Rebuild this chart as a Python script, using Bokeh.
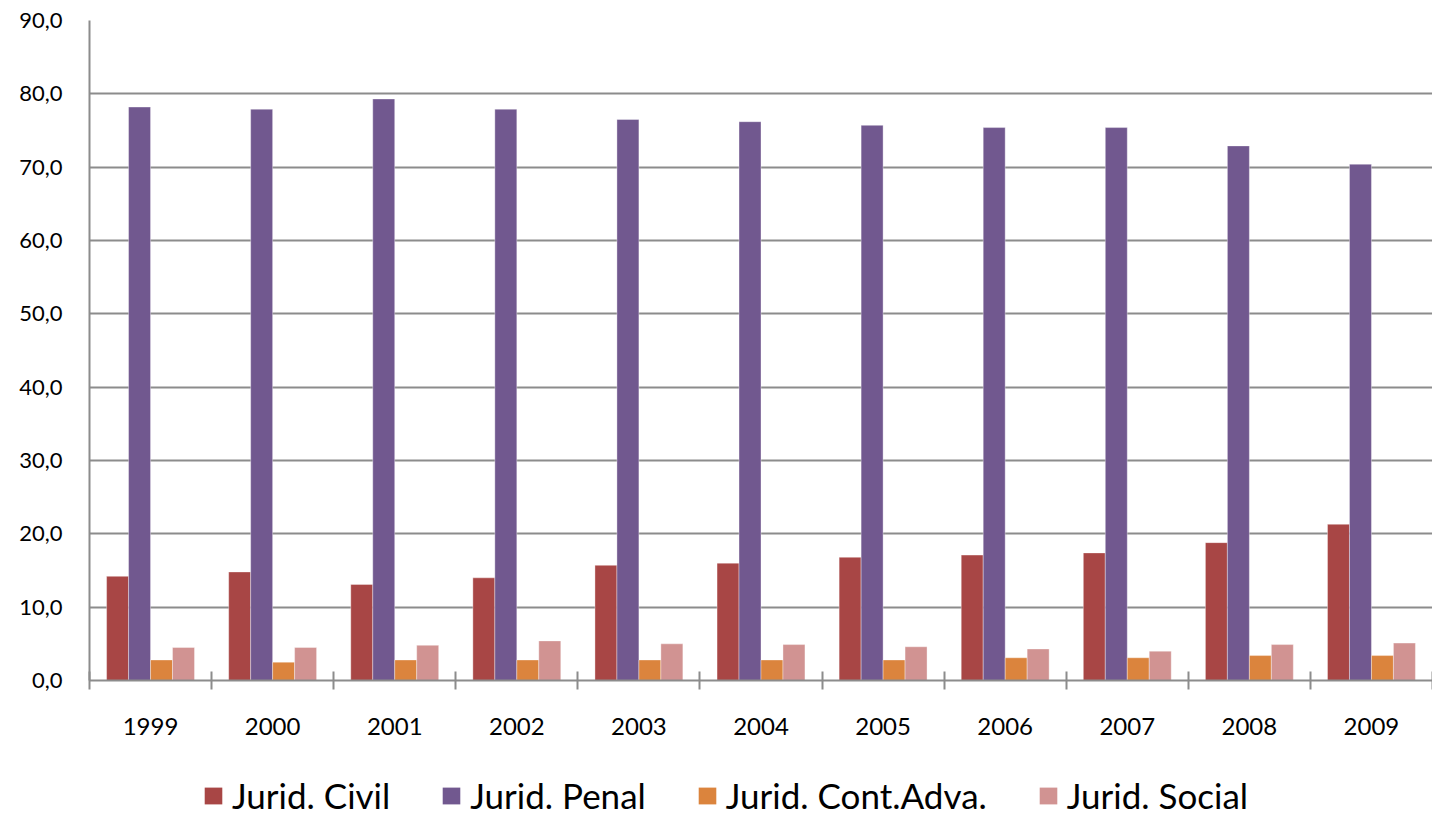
import numpy as np
from bokeh.plotting import figure
from bokeh.layouts import column
from bokeh.models import (Range1d, FixedTicker, CustomJSTickFormatter, ColumnDataSource,
                          Legend, LegendItem)
from bokeh.embed import file_html
from bokeh.resources import INLINE

years = ["1999", "2000", "2001", "2002", "2003", "2004", "2005", "2006", "2007", "2008", "2009"]
civil = [14.2, 14.8, 13.1, 14.0, 15.7, 16.0, 16.8, 17.1, 17.4, 18.8, 21.3]
penal = [78.2, 77.9, 79.3, 77.9, 76.5, 76.2, 75.7, 75.4, 75.4, 72.9, 70.4]
cont = [2.8, 2.5, 2.8, 2.8, 2.8, 2.8, 2.8, 3.1, 3.1, 3.4, 3.4]
social = [4.5, 4.5, 4.8, 5.4, 5.0, 4.9, 4.6, 4.3, 4.0, 4.9, 5.1]
series_names = ["Jurid. Civil", "Jurid. Penal", "Jurid. Cont.Adva.", "Jurid. Social"]
colors = ["#A84645", "#71588F", "#DB843D", "#D19392"]
y_ticks = [0, 10, 20, 30, 40, 50, 60, 70, 80, 90]

FONT = "Lato"
GRID = "#8C8C8C"

p = figure(width=1432, height=774, output_backend="svg", toolbar_location=None,
           x_range=Range1d(0, len(years)), y_range=Range1d(0, 90),
           min_border_left=89, min_border_top=20, min_border_right=0, min_border_bottom=94)
p.outline_line_color = None
p.xgrid.visible = False
p.ygrid.ticker = FixedTicker(ticks=y_ticks)
p.ygrid.grid_line_color = GRID
p.ygrid.grid_line_width = 2

centers = np.arange(len(years)) + 0.5
bw = 0.18
offsets = [-1.5 * bw, -0.5 * bw, 0.5 * bw, 1.5 * bw]
sources = []
for vals, off, col in zip([civil, penal, cont, social], offsets, colors):
    src = ColumnDataSource(dict(x=centers + off, top=vals))
    sources.append(src)
    p.vbar(x="x", top="top", width=bw, bottom=0, source=src, fill_color=col,
           line_color="white", line_width=0.6, line_alpha=0.6)

# y axis
p.yaxis.ticker = FixedTicker(ticks=y_ticks)
p.yaxis.formatter = CustomJSTickFormatter(code="return tick.toFixed(1).replace('.', ',');")
p.yaxis.axis_line_color = GRID
p.yaxis.axis_line_width = 2
p.yaxis.major_tick_line_color = None
p.yaxis.major_tick_out = 0
p.yaxis.major_tick_in = 0
p.yaxis.minor_tick_line_color = None
p.yaxis.minor_tick_out = 0
p.yaxis.major_label_text_font = FONT
p.yaxis.major_label_text_font_size = "22px"
p.yaxis.major_label_text_color = "black"
p.yaxis.major_label_standoff = 27

# x axis
p.xaxis.ticker = FixedTicker(ticks=list(centers), minor_ticks=list(range(len(years) + 1)))
p.xaxis.formatter = CustomJSTickFormatter(args=dict(labels=years),
                                          code="return labels[Math.floor(tick)];")
p.xaxis.axis_line_color = GRID
p.xaxis.axis_line_width = 2
p.xaxis.major_tick_line_color = None
p.xaxis.major_tick_out = 0
p.xaxis.major_tick_in = 0
p.xaxis.minor_tick_line_color = GRID
p.xaxis.minor_tick_line_width = 2
p.xaxis.minor_tick_in = 9
p.xaxis.minor_tick_out = 9
p.xaxis.major_label_text_font = FONT
p.xaxis.major_label_text_font_size = "24px"
p.xaxis.major_label_text_color = "black"
p.xaxis.major_label_standoff = 28

# legend strip below the chart (proxy renderers share the data but sit outside its view)
lg = figure(width=1432, height=42, output_backend="svg", toolbar_location=None,
            x_axis_type=None, y_axis_type=None,
            x_range=Range1d(-1000, -999), y_range=Range1d(0, 1),
            min_border_left=0, min_border_right=0, min_border_top=0, min_border_bottom=0)
lg.grid.visible = False
lg.outline_line_color = None
items = []
for name, col, src in zip(series_names, colors, sources):
    r = lg.vbar(x="x", top="top", width=bw, source=src, fill_color=col, line_color=None)
    items.append(LegendItem(label=name, renderers=[r]))
legend = Legend(items=items, orientation="horizontal", location=(113, 0),
                label_text_font=FONT, label_text_font_size="35px", label_text_color="black",
                glyph_width=22, glyph_height=21, label_standoff=8, spacing=50,
                border_line_color=None, background_fill_alpha=0, padding=0, margin=0)
lg.add_layout(legend, "center")

layout = column(p, lg, spacing=0)
open("out.html", "w").write(file_html(layout, INLINE))
